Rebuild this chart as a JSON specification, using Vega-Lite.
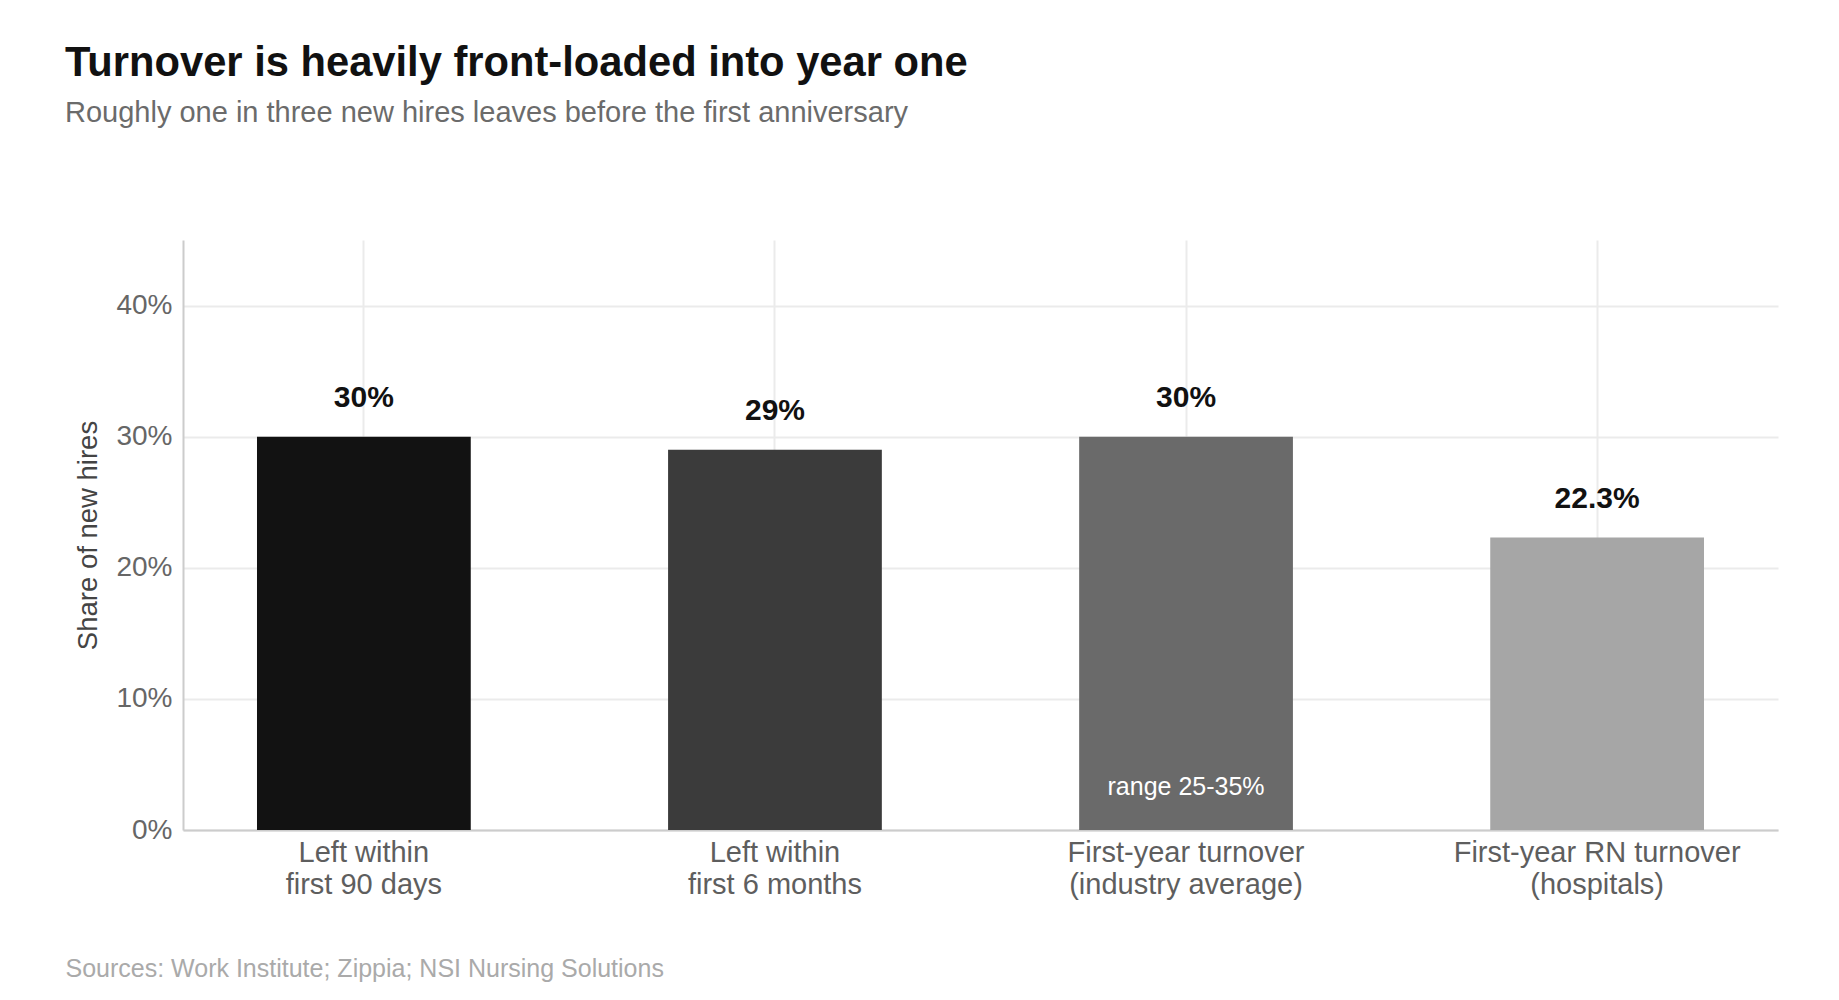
{
  "$schema": "https://vega.github.io/schema/vega-lite/v6.json",
  "width": 1595,
  "height": 590,
  "autosize": {"type": "none"},
  "padding": {"left": 183, "top": 240, "right": 61, "bottom": 170},
  "background": "white",
  "title": {
    "text": "Turnover is heavily front-loaded into year one",
    "subtitle": "Roughly one in three new hires leaves before the first anniversary",
    "anchor": "start",
    "frame": "group",
    "dx": -118,
    "offset": 112,
    "font": "Liberation Sans",
    "fontSize": 41.7,
    "fontWeight": "bold",
    "color": "#111111",
    "subtitleFont": "Liberation Sans",
    "subtitleFontSize": 29,
    "subtitleColor": "#6b6b6b",
    "subtitlePadding": 14
  },
  "config": {
    "view": {"stroke": null},
    "font": "Liberation Sans",
    "axis": {
      "domainColor": "#cccccc",
      "domainWidth": 2,
      "gridColor": "#ebebeb",
      "gridWidth": 2,
      "ticks": false,
      "tickSize": 0,
      "labelFont": "Liberation Sans",
      "labelFontSize": 28,
      "labelColor": "#666666",
      "labelLimit": 0,
      "titleFont": "Liberation Sans",
      "titleFontWeight": "normal"
    }
  },
  "data": {
    "values": [
      {"name": "Left within|first 90 days", "value": 0.30, "label": "30%", "note": null},
      {"name": "Left within|first 6 months", "value": 0.29, "label": "29%", "note": null},
      {"name": "First-year turnover|(industry average)", "value": 0.30, "label": "30%", "note": "range 25-35%"},
      {"name": "First-year RN turnover|(hospitals)", "value": 0.223, "label": "22.3%", "note": null}
    ]
  },
  "encoding": {
    "x": {
      "field": "name",
      "type": "nominal",
      "sort": null,
      "scale": {"paddingInner": 0.48, "paddingOuter": 0.18},
      "axis": {
        "labelExpr": "split(datum.label, '|')",
        "labelAngle": 0,
        "labelPadding": 8,
        "labelFontSize": 29,
        "labelLineHeight": 32,
        "labelColor": "#5e5e5e",
        "grid": true,
        "bandPosition": 0.5,
        "title": "Sources: Work Institute; Zippia; NSI Nursing Solutions",
        "titleFontSize": 25,
        "titleColor": "#aaaaaa",
        "titleAnchor": "start",
        "titleAlign": "left",
        "titleBaseline": "alphabetic",
        "titleX": -118,
        "titleY": 146
      }
    }
  },
  "layer": [
    {
      "mark": {"type": "bar"},
      "encoding": {
        "y": {
          "field": "value",
          "type": "quantitative",
          "scale": {"domain": [0, 0.45], "nice": false},
          "axis": {
            "values": [0, 0.1, 0.2, 0.3, 0.4],
            "format": ".0%",
            "labelPadding": 11,
            "title": "Share of new hires",
            "titleFontSize": 27.5,
            "titleColor": "#444444",
            "titlePadding": 13
          }
        },
        "color": {
          "field": "name",
          "type": "nominal",
          "sort": null,
          "scale": {"range": ["#121212", "#3b3b3b", "#6a6a6a", "#a6a6a6"]},
          "legend": null
        }
      }
    },
    {
      "mark": {"type": "text", "baseline": "alphabetic", "dy": -30, "fontSize": 30, "fontWeight": "bold", "color": "#111111"},
      "encoding": {
        "y": {"field": "value", "type": "quantitative"},
        "text": {"field": "label"}
      }
    },
    {
      "transform": [{"filter": "datum.note != null"}],
      "mark": {"type": "text", "baseline": "alphabetic", "dy": -35, "fontSize": 25, "color": "#ffffff"},
      "encoding": {
        "y": {"datum": 0},
        "text": {"field": "note"}
      }
    }
  ]
}
